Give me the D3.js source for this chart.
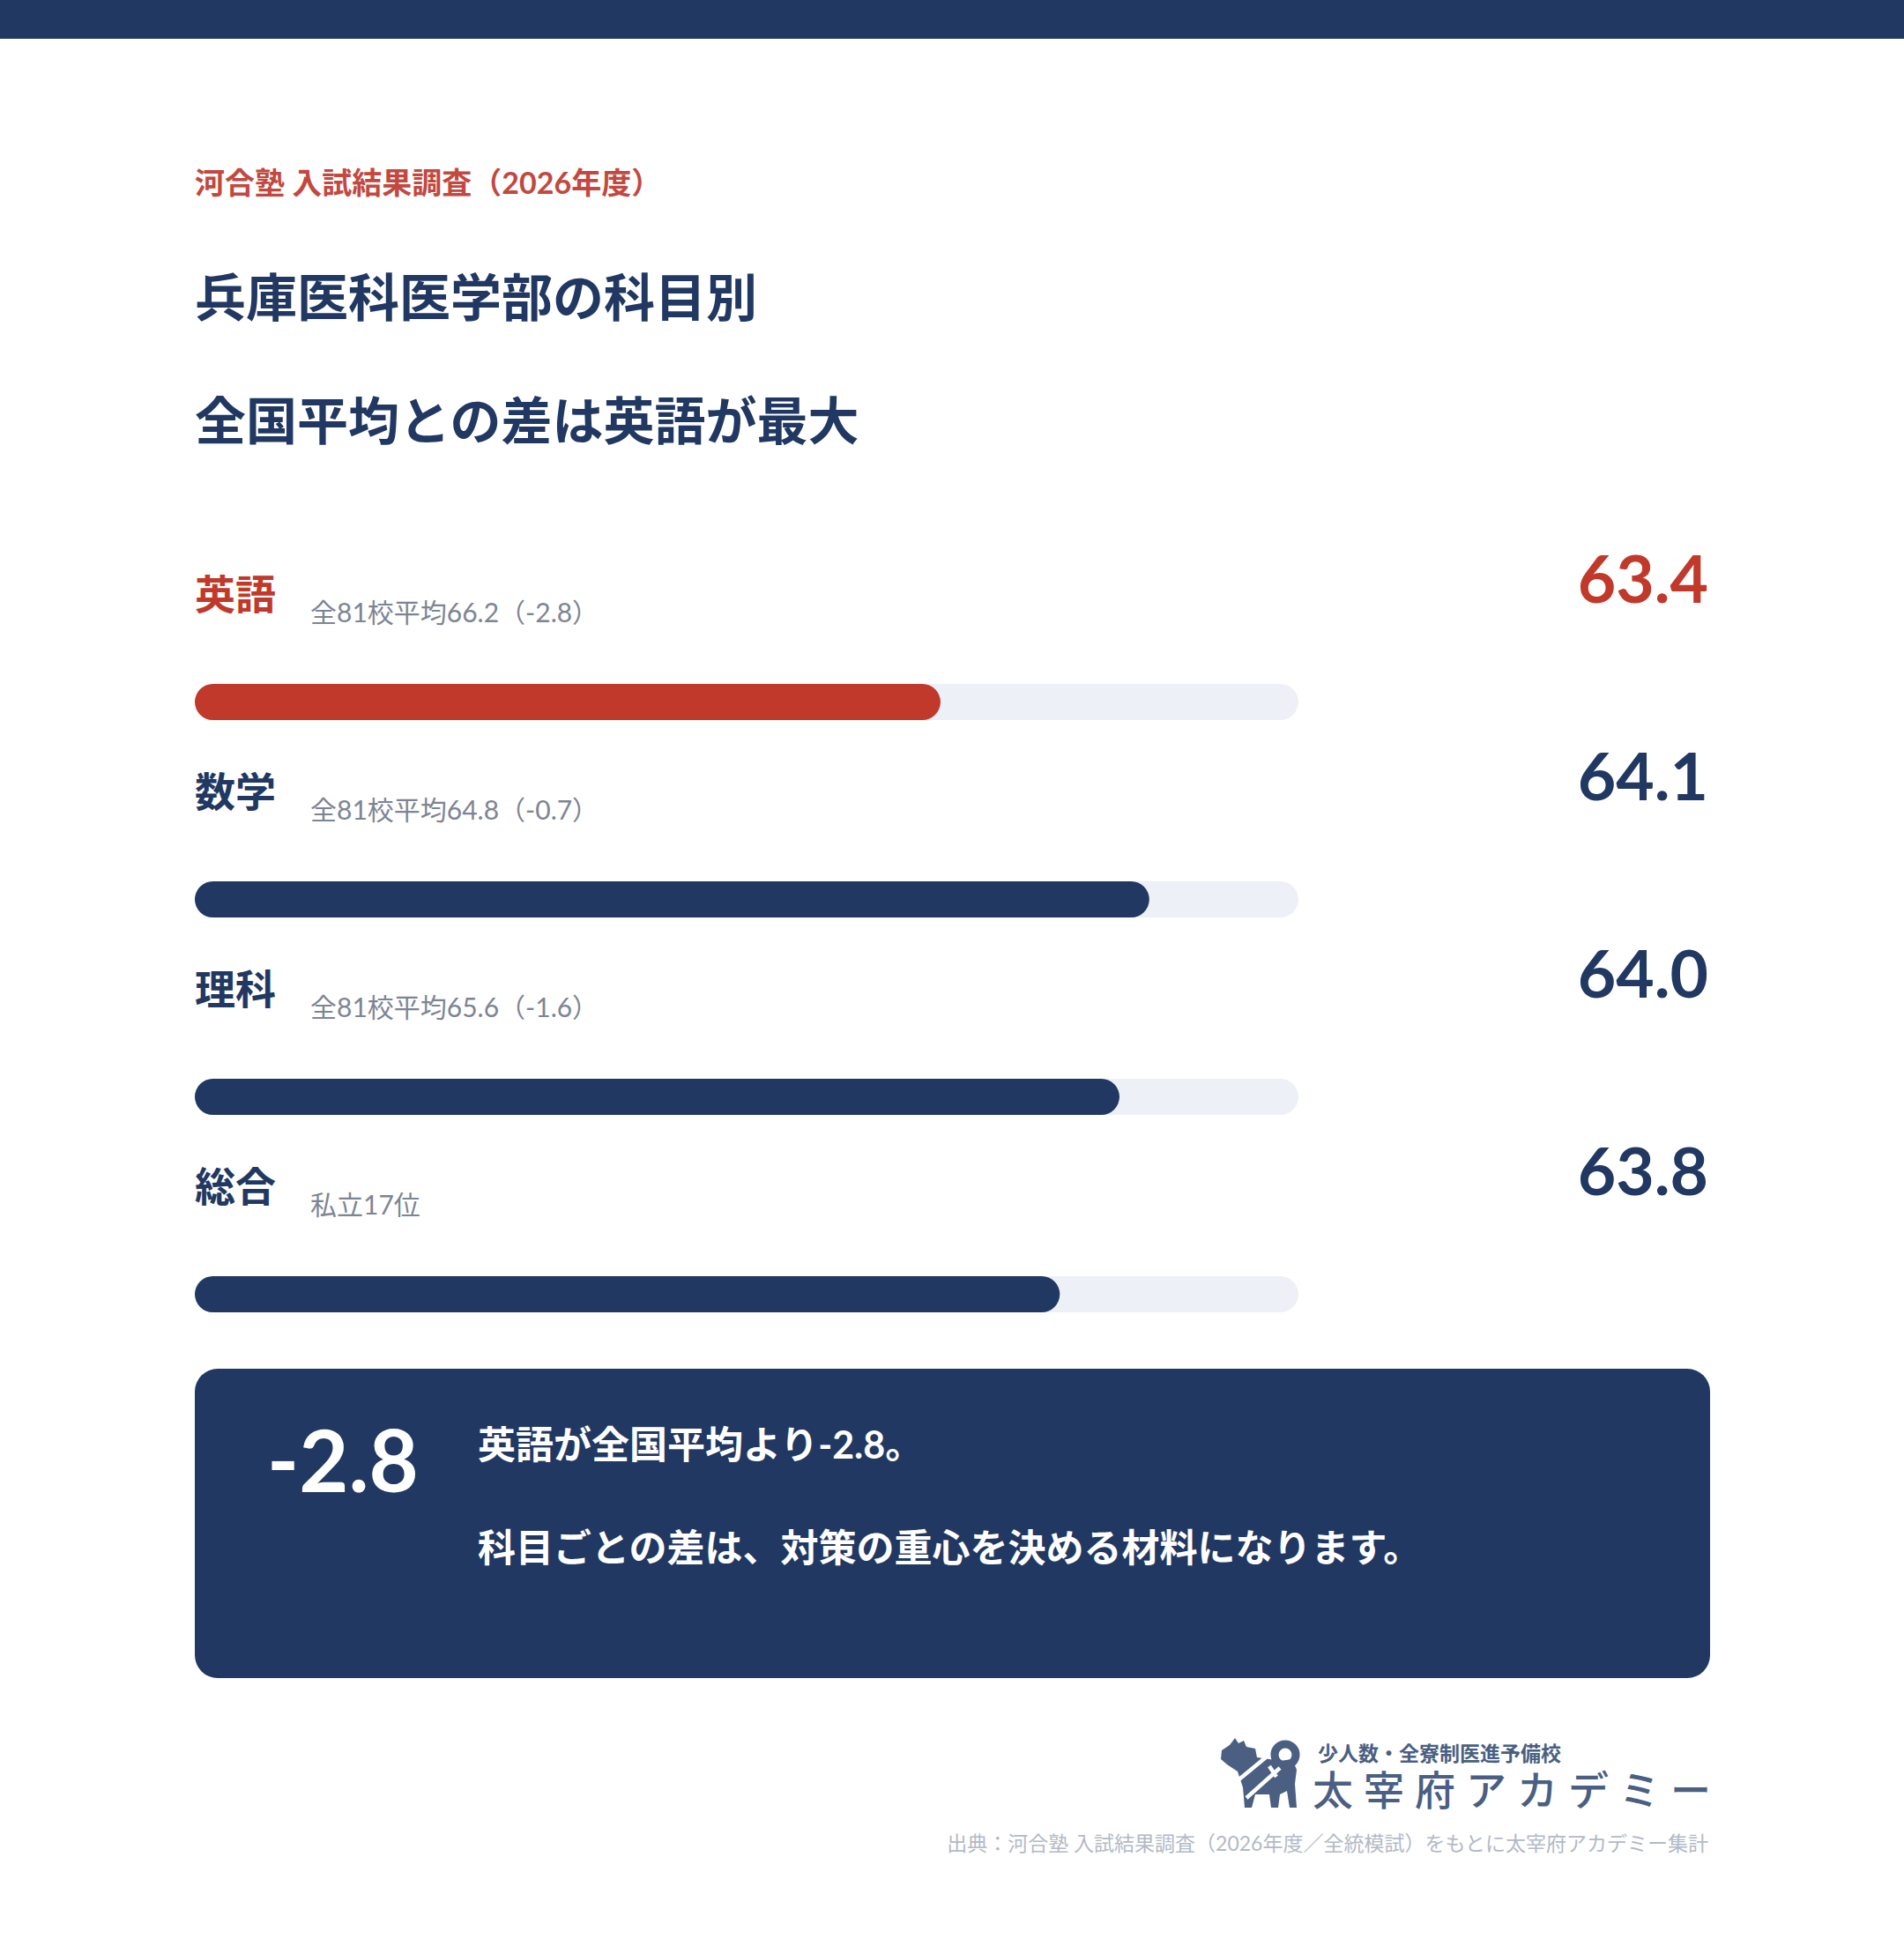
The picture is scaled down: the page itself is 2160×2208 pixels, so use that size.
<!DOCTYPE html>
<html><head><meta charset="utf-8">
<script src="https://cdn.jsdelivr.net/npm/d3@7"></script>
<style>html,body{margin:0;padding:0;background:#fff}svg{display:block}</style>
</head><body>
<script>
// ---- data ----
const subjects = ["英語", "数学", "理科", "総合"];
const scores = [63.4, 64.1, 64.0, 63.8];
const notes = ["全81校平均66.2（-2.8）", "全81校平均64.8（-0.7）", "全81校平均65.6（-1.6）", "私立17位"];
const highlightSubject = "英語";
const scoreDomain = [60.9, 64.6];
const kicker = "河合塾 入試結果調査（2026年度）";
const titleLines = ["兵庫医科医学部の科目別", "全国平均との差は英語が最大"];
const calloutValue = "-2.8";
const calloutLines = ["英語が全国平均より-2.8。", "科目ごとの差は、対策の重心を決める材料になります。"];
const logoSub = "少人数・全寮制医進予備校";
const logoMain = "太宰府アカデミー";
const source = "出典：河合塾 入試結果調査（2026年度／全統模試）をもとに太宰府アカデミー集計";

// ---- style ----
const W = 2160, H = 2208;
const NAVY = "#213862", RED = "#c0392b", TRACK = "#edf0f7", GREY = "#7d8594";
const FONT = "Lato,'Noto Sans CJK JP','Noto Sans',sans-serif";
const left = 221, barW = 1252, right = 1938;

const svg = d3.select("body").append("svg").attr("width", W).attr("height", H)
  .style("font-family", FONT);
svg.append("rect").attr("width", W).attr("height", 44).attr("fill", NAVY);

svg.append("text").attr("x", left).attr("y", 220).attr("fill", "#c24840")
  .attr("font-size", 34).attr("font-weight", 700).text(kicker);
svg.selectAll("text.title").data(titleLines).join("text").attr("class", "title")
  .attr("x", left).attr("y", (d, i) => 359 + i * 140).attr("fill", NAVY)
  .attr("font-size", 58).attr("font-weight", 700).text(d => d);

const x = d3.scaleLinear().domain(scoreDomain).range([0, barW]);
const rows = subjects.map((s, i) => ({ s, v: scores[i], note: notes[i], i }));
const rowY = d3.scaleLinear().domain([0, 1]).range([0, 224]);

const g = svg.selectAll("g.row").data(rows).join("g").attr("class", "row")
  .attr("transform", d => `translate(0,${rowY(d.i)})`);
const col = d => d.s === highlightSubject ? RED : NAVY;
g.append("text").attr("x", left).attr("y", 691).attr("fill", col)
  .attr("font-size", 46).attr("font-weight", 700).text(d => d.s);
g.append("text").attr("x", 352).attr("y", 706).attr("fill", GREY)
  .attr("font-size", 30).attr("font-weight", 400).text(d => d.note);
g.append("text").attr("x", right).attr("y", 684).attr("text-anchor", "end").attr("fill", col)
  .attr("font-size", 75).attr("font-weight", 700).text(d => d.v.toFixed(1));
g.append("rect").attr("x", left).attr("y", 776).attr("width", barW).attr("height", 41)
  .attr("rx", 20.5).attr("fill", TRACK);
g.append("rect").attr("x", left).attr("y", 776).attr("width", d => x(d.v)).attr("height", 41)
  .attr("rx", 20.5).attr("fill", col);

// callout
svg.append("rect").attr("x", left).attr("y", 1553).attr("width", 1719).attr("height", 351)
  .attr("rx", 26).attr("fill", NAVY);
svg.append("text").attr("x", 303).attr("y", 1693).attr("fill", "#fff")
  .attr("font-size", 97).attr("font-weight", 700).text(calloutValue);
svg.selectAll("text.cl").data(calloutLines).join("text").attr("class", "cl")
  .attr("x", 542).attr("y", (d, i) => 1655 + i * 117).attr("fill", "#fff")
  .attr("font-size", 43).attr("font-weight", 700).text(d => d);

// logo (dog silhouette + wordmark)
const LOGO = "#4a5f82";
const lg = svg.append("g");
lg.append("path").attr("fill", LOGO)
  .attr("d", "M1386 1986 L1395 1980 L1401 1972 L1405 1978 L1411 1975 L1414 1982 L1424 1984 L1426 1994 L1440 1996 L1452 1998 L1466 1996 L1471 2008 L1469 2024 L1471 2051 L1463 2051 L1460 2032 L1452 2036 L1450 2051 L1442 2051 L1440 2036 L1424 2036 L1420 2051 L1412 2051 L1410 2028 L1404 2010 L1392 2002 L1385 1996 Z");
lg.append("circle").attr("cx", 1458).attr("cy", 1991).attr("r", 12).attr("fill", "none")
  .attr("stroke", LOGO).attr("stroke-width", 9);
lg.append("path").attr("stroke", "#fff").attr("stroke-width", 4.5).attr("fill", "none")
  .attr("d", "M1402 2022 L1436 1994 M1414 2040 L1452 2006 M1440 2004 L1448 2016");
svg.append("text").attr("x", 1495).attr("y", 1998).attr("fill", LOGO)
  .attr("font-size", 23).attr("font-weight", 700).text(logoSub);
svg.append("text").attr("x", 1489).attr("y", 2048).attr("fill", LOGO)
  .attr("font-size", 46).attr("font-weight", 500).attr("letter-spacing", 12).text(logoMain);
svg.append("text").attr("x", right).attr("y", 2100).attr("text-anchor", "end").attr("fill", "#b3b9c6")
  .attr("font-size", 23).text(source);
</script>
</body></html>
